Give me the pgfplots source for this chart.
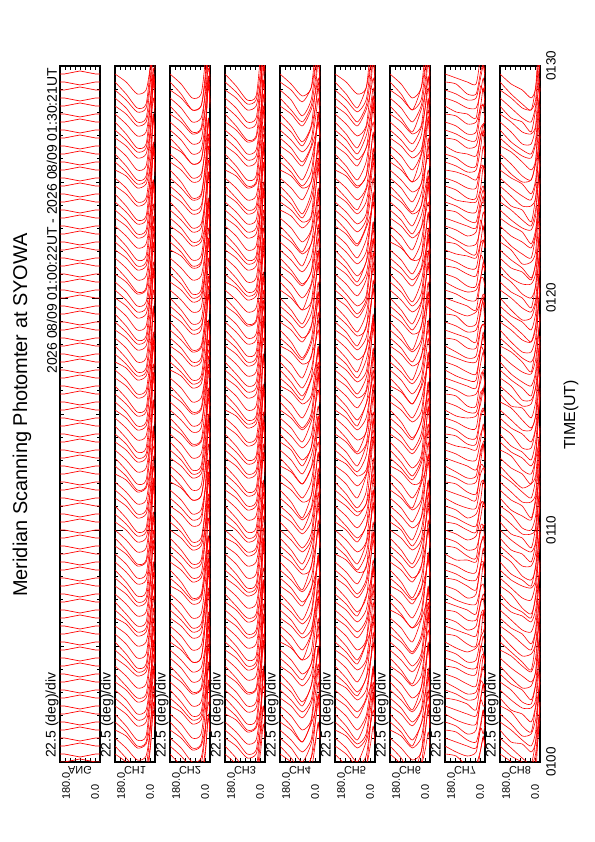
\documentclass[border=0pt]{standalone}
\usepackage{pgfplots}
\pgfplotsset{compat=1.18}
\usepackage{pgfplotstable}
\usepackage{fontspec}
\setmainfont{Liberation Sans}

\newcommand\scanlist{1/0,2/8,3/16,4/24,5/32,6/40,7/48,8/56,9/64,10/72,11/80,12/88,13/96,14/104,15/112,16/120,17/128,18/136,19/144,20/152,21/160,22/168,23/176,24/184,25/192,26/200,27/208,28/216,29/224,30/232,31/240,32/248,33/256,34/264,35/272,36/280,37/288,38/296,39/304,40/312,41/320,42/328,43/336,44/344,45/352,46/360,47/368,48/376,49/384,50/392,51/400,52/408,53/416,54/424,55/432,56/440,57/448,58/456,59/464,60/472,61/480,62/488,63/496,64/504,65/512,66/520,67/528,68/536,69/544,70/552,71/560,72/568,73/576,74/584,75/592,76/600,77/608,78/616,79/624,80/632,81/640,82/648,83/656,84/664,85/672,86/680,87/688}

% #1 table, #2 vertical scale of the deflections (px per table unit), #3 trace style
\newcommand\drawtraces[3]{%
  \foreach \ci/\tm in \scanlist {%
    \edef\temp{\noexpand\addplot[#3] table[x index=0, y expr=#2*\noexpand\thisrowno{\ci}+\tm]{\noexpand#1};}%
    \temp
  }%
}

% ANG: deflection (px) of each scan trace at the sampled angles
\pgfplotstableread[header=false,row sep=\\]{
180 0 0 0 0 0 0 0 0 0 0  0 0 0 0 0 0 0 0 0 0  0 0 0 0 0 0 0 0 0 0  0 0 0 0 0 0 0 0 0 0  0 0 0 0 0 0 0 0 0 0  0 0 0 0 0 0 0 0 0 0  0 0 0 0 0 0 0 0 0 0  0 0 0 0 0 0 0 0 0 0  0 0 0 0 0 0 0 \\
160 0 0 0 0 0 0 0 0 0 0  0 0 0 0 0 0 0 0 0 0  0 0 0 0 0 0 0 0 0 0  0 0 0 0 0 0 0 0 0 0  0 0 0 0 0 0 0 0 0 0  0 0 0 0 0 0 0 0 0 0  0 0 0 0 0 0 0 0 0 0  0 0 0 0 0 0 0 0 0 0  0 0 0 0 0 0 0 \\
90 3 -3 3 -3 3 -3 3 -3 3 -3  3 -3 3 -3 3 -3 3 -3 3 -3  3 -3 3 -3 3 -3 3 -3 3 -3  3 -3 3 -3 3 -3 3 -3 3 -3  3 -3 3 -3 3 -3 3 -3 3 -3  3 -3 3 -3 3 -3 3 -3 3 -3  3 -3 3 -3 3 -3 3 -3 3 -3  3 -3 3 -3 3 -3 3 -3 3 -3  3 -3 3 -3 3 -3 3 \\
20 0 0 0 0 0 0 0 0 0 0  0 0 0 0 0 0 0 0 0 0  0 0 0 0 0 0 0 0 0 0  0 0 0 0 0 0 0 0 0 0  0 0 0 0 0 0 0 0 0 0  0 0 0 0 0 0 0 0 0 0  0 0 0 0 0 0 0 0 0 0  0 0 0 0 0 0 0 0 0 0  0 0 0 0 0 0 0 \\
0 0 0 0 0 0 0 0 0 0 0  0 0 0 0 0 0 0 0 0 0  0 0 0 0 0 0 0 0 0 0  0 0 0 0 0 0 0 0 0 0  0 0 0 0 0 0 0 0 0 0  0 0 0 0 0 0 0 0 0 0  0 0 0 0 0 0 0 0 0 0  0 0 0 0 0 0 0 0 0 0  0 0 0 0 0 0 0 \\
}\tabANG

% CH1
\pgfplotstableread[header=false,row sep=\\]{
180 0 0 0 0 0 0 0 0 0 0  0 0 0 0 0 0 0 0 0 0  0 0 0 0 0 0 0 0 0 0  0 0 0 0 0 0 0 0 0 0  0 0 0 0 0 0 0 0 0 0  0 0 0 0 0 0 0 0 0 0  0 0 0 0 0 0 0 0 0 0  0 0 0 0 0 0 0 0 0 0  0 0 0 0 0 0 0 \\
130 -5 -4 -6 -5 -3 -5 -6 -4 -5 -5  -4 -6 -5 -4 -5 -6 -5 -4 -3 -5  -6 -5 -4 -5 -6 -5 -5 -4 -6 -5  -4 -5 -6 -4 -5 -5 -3 -5 -6 -5  -4 -5 -6 -5 -4 -5 -5 -6 -4 -5  -3 -5 -6 -5 -4 -5 -6 -5 -4 -5  -5 -4 -6 -5 -4 -5 -6 -5 -4 -5  -5 -6 -4 -5 -3 -5 -6 -5 -4 -5  -6 -5 -4 -5 -5 -6 -4 \\
80 -11 -10 -12 -11 -9 -12 -13 -10 -11 -12  -10 -12 -11 -9 -11 -13 -12 -10 -9 -11  -12 -11 -10 -12 -13 -11 -12 -10 -13 -11  -10 -11 -13 -10 -12 -11 -9 -12 -13 -11  -10 -12 -13 -11 -10 -12 -11 -13 -10 -12  -9 -11 -13 -12 -10 -11 -13 -12 -10 -11  -12 -10 -13 -11 -10 -12 -13 -11 -10 -12  -11 -13 -10 -12 -9 -11 -13 -12 -10 -11  -13 -11 -10 -12 -11 -13 -10 \\
40 -9 -8 -10 -9 -7 -10 -11 -8 -9 -10  -8 -10 -9 -7 -9 -11 -10 -8 -7 -9  -10 -9 -8 -10 -11 -9 -10 -8 -11 -9  -8 -9 -11 -8 -10 -9 -7 -10 -11 -9  -8 -10 -11 -9 -8 -10 -9 -11 -8 -10  -7 -9 -11 -10 -8 -9 -11 -10 -8 -9  -10 -8 -11 -9 -8 -10 -11 -9 -8 -10  -9 -11 -8 -10 -7 -9 -11 -10 -8 -9  -11 -9 -8 -10 -9 -11 -8 \\
20 8 5 10 6 4 9 12 5 7 6  4 9 6 3 7 11 8 5 4 6  10 7 5 8 12 6 9 4 11 7  5 6 10 4 8 7 3 9 11 6  5 8 12 7 4 9 6 11 5 8  3 6 10 9 5 7 12 8 4 6  9 5 11 7 4 8 12 6 5 9  7 11 4 8 3 6 10 9 5 7  11 6 4 9 7 10 5 \\
8 30 22 38 26 18 34 44 20 28 25  17 33 24 15 27 40 31 21 16 24  36 27 20 30 45 23 34 17 41 26  19 24 37 16 30 28 14 33 42 23  21 31 43 27 17 35 24 40 19 30  14 23 38 34 20 27 44 31 18 24  33 20 41 27 16 31 45 23 19 34  26 40 17 30 13 24 37 33 20 27  41 23 16 34 27 38 20 \\
0 18 12 24 15 10 20 28 11 17 14  9 21 13 8 16 26 19 12 9 14  23 16 11 18 29 13 21 10 26 15  11 14 23 9 18 17 8 20 27 13  12 19 28 16 10 22 14 25 11 18  8 13 24 21 12 16 28 19 10 14  20 12 26 16 9 19 29 13 11 21  15 25 10 18 7 14 23 20 12 16  26 13 9 21 16 24 12 \\
}\tabCHa

% CH2
\pgfplotstableread[header=false,row sep=\\]{
180 0 0 0 0 0 0 0 0 0 0  0 0 0 0 0 0 0 0 0 0  0 0 0 0 0 0 0 0 0 0  0 0 0 0 0 0 0 0 0 0  0 0 0 0 0 0 0 0 0 0  0 0 0 0 0 0 0 0 0 0  0 0 0 0 0 0 0 0 0 0  0 0 0 0 0 0 0 0 0 0  0 0 0 0 0 0 0 \\
130 -4 -6 -5 -5 -4 -6 -5 -3 -5 -6  -5 -4 -6 -5 -5 -4 -6 -5 -4 -5  -6 -5 -3 -5 -6 -4 -5 -5 -6 -4  -5 -6 -4 -5 -5 -3 -6 -5 -4 -5  -6 -5 -4 -6 -5 -5 -4 -6 -5 -3  -5 -6 -4 -5 -5 -6 -4 -5 -6 -5  -4 -5 -6 -5 -3 -5 -6 -4 -5 -5  -6 -4 -5 -5 -6 -4 -5 -3 -6 -5  -5 -4 -6 -5 -4 -6 -5 \\
80 -12 -13 -11 -12 -10 -13 -12 -9 -11 -13  -12 -10 -13 -12 -11 -10 -14 -12 -10 -11  -13 -12 -9 -11 -14 -10 -12 -11 -13 -10  -12 -14 -10 -11 -12 -9 -13 -12 -10 -12  -14 -12 -10 -13 -11 -12 -10 -13 -12 -9  -11 -13 -10 -12 -11 -14 -10 -12 -13 -11  -10 -12 -14 -11 -9 -12 -13 -10 -12 -11  -13 -10 -12 -11 -14 -10 -12 -9 -13 -12  -11 -10 -13 -12 -10 -14 -12 \\
40 -10 -11 -9 -10 -8 -11 -10 -7 -9 -11  -10 -8 -11 -10 -9 -8 -12 -10 -8 -9  -11 -10 -7 -9 -12 -8 -10 -9 -11 -8  -10 -12 -8 -9 -10 -7 -11 -10 -8 -10  -12 -10 -8 -11 -9 -10 -8 -11 -10 -7  -9 -11 -8 -10 -9 -12 -8 -10 -11 -9  -8 -10 -12 -9 -7 -10 -11 -8 -10 -9  -11 -8 -10 -9 -12 -8 -10 -7 -11 -10  -9 -8 -11 -10 -8 -12 -10 \\
20 5 3 8 6 2 7 10 4 5 9  6 2 9 5 3 11 7 4 8 5  3 7 10 4 6 2 9 5 8 3  7 4 11 6 2 8 5 10 3 6  9 5 3 7 12 4 6 8 2 5  4 8 6 10 3 5 9 2 7 11  6 3 8 5 10 4 7 2 9 6  2 9 5 7 4 11 3 8 6 5  8 4 10 3 6 5 9 \\
8 24 18 33 27 14 30 40 20 25 36  28 15 37 23 17 42 31 19 34 22  16 29 41 21 26 13 38 24 33 18  30 20 44 27 15 34 23 39 17 26  36 22 16 31 45 19 27 33 14 24  20 34 26 40 17 23 37 13 30 43  27 16 33 22 39 19 31 14 36 25  13 37 24 30 18 42 16 34 27 22  33 19 40 15 26 23 37 \\
0 15 11 21 17 9 19 26 12 16 23  18 9 24 14 10 27 20 12 22 14  10 19 27 13 17 8 25 15 21 11  19 12 28 17 9 22 15 25 11 16  23 14 10 20 29 12 17 21 9 15  12 22 16 26 11 15 24 8 19 28  17 10 21 14 25 12 20 9 23 16  8 24 15 19 11 27 10 22 17 14  21 12 26 9 17 15 24 \\
}\tabCHb

% CH3
\pgfplotstableread[header=false,row sep=\\]{
180 0 0 0 0 0 0 0 0 0 0  0 0 0 0 0 0 0 0 0 0  0 0 0 0 0 0 0 0 0 0  0 0 0 0 0 0 0 0 0 0  0 0 0 0 0 0 0 0 0 0  0 0 0 0 0 0 0 0 0 0  0 0 0 0 0 0 0 0 0 0  0 0 0 0 0 0 0 0 0 0  0 0 0 0 0 0 0 \\
130 -4 -5 -6 -4 -5 -5 -3 -5 -6 -5  -5 -4 -6 -5 -4 -5 -6 -5 -4 -5  -4 -6 -5 -4 -5 -6 -5 -4 -3 -5  -4 -5 -6 -5 -4 -5 -5 -6 -4 -5  -5 -6 -4 -5 -3 -5 -6 -5 -4 -5  -6 -5 -4 -5 -6 -5 -5 -4 -6 -5  -3 -5 -6 -5 -4 -5 -6 -5 -4 -5  -5 -4 -6 -5 -3 -5 -6 -4 -5 -5  -4 -6 -5 -5 -4 -5 -6 \\
80 -10 -11 -13 -10 -12 -11 -9 -12 -13 -11  -12 -10 -13 -11 -10 -12 -13 -11 -10 -12  -10 -12 -11 -9 -11 -13 -12 -10 -9 -11  -10 -12 -13 -11 -10 -12 -11 -13 -10 -12  -11 -13 -10 -12 -9 -11 -13 -12 -10 -11  -12 -11 -10 -12 -13 -11 -12 -10 -13 -11  -9 -11 -13 -12 -10 -11 -13 -12 -10 -11  -11 -10 -12 -11 -9 -12 -13 -10 -11 -12  -10 -13 -11 -12 -10 -11 -13 \\
40 -8 -9 -11 -8 -10 -9 -7 -10 -11 -9  -10 -8 -11 -9 -8 -10 -11 -9 -8 -10  -8 -10 -9 -7 -9 -11 -10 -8 -7 -9  -8 -10 -11 -9 -8 -10 -9 -11 -8 -10  -9 -11 -8 -10 -7 -9 -11 -10 -8 -9  -10 -9 -8 -10 -11 -9 -10 -8 -11 -9  -7 -9 -11 -10 -8 -9 -11 -10 -8 -9  -9 -8 -10 -9 -7 -10 -11 -8 -9 -10  -8 -11 -9 -10 -8 -9 -11 \\
20 5 6 10 4 8 7 3 9 11 6  9 5 11 7 4 8 12 6 5 9  4 9 6 3 7 11 8 5 4 6  5 8 12 7 4 9 6 11 5 8  7 11 4 8 3 6 10 9 5 7  10 7 5 8 12 6 9 4 11 7  3 6 10 9 5 7 12 8 4 6  8 5 10 6 4 9 12 5 7 6  5 10 7 9 4 6 11 \\
8 19 24 37 16 30 28 14 33 42 23  33 20 41 27 16 31 45 23 19 34  17 33 24 15 27 40 31 21 16 24  21 31 43 27 17 35 24 40 19 30  26 40 17 30 13 24 37 33 20 27  36 27 20 30 45 23 34 17 41 26  14 23 38 34 20 27 44 31 18 24  30 22 38 26 18 34 44 20 28 25  20 38 27 34 16 23 41 \\
0 11 14 23 9 18 17 8 20 27 13  20 12 26 16 9 19 29 13 11 21  9 21 13 8 16 26 19 12 9 14  12 19 28 16 10 22 14 25 11 18  15 25 10 18 7 14 23 20 12 16  23 16 11 18 29 13 21 10 26 15  8 13 24 21 12 16 28 19 10 14  18 12 24 15 10 20 28 11 17 14  12 24 16 21 9 13 26 \\
}\tabCHc

% CH4
\pgfplotstableread[header=false,row sep=\\]{
180 0 0 0 0 0 0 0 0 0 0  0 0 0 0 0 0 0 0 0 0  0 0 0 0 0 0 0 0 0 0  0 0 0 0 0 0 0 0 0 0  0 0 0 0 0 0 0 0 0 0  0 0 0 0 0 0 0 0 0 0  0 0 0 0 0 0 0 0 0 0  0 0 0 0 0 0 0 0 0 0  0 0 0 0 0 0 0 \\
130 -5 -4 -6 -5 -5 -4 -6 -5 -4 -5  -5 -6 -4 -5 -5 -3 -6 -5 -4 -5  -5 -6 -4 -5 -5 -6 -4 -5 -6 -5  -6 -4 -5 -5 -6 -4 -5 -3 -6 -5  -4 -6 -5 -5 -4 -6 -5 -3 -5 -6  -6 -5 -3 -5 -6 -4 -5 -5 -6 -4  -6 -5 -4 -6 -5 -5 -4 -6 -5 -3  -4 -5 -6 -5 -3 -5 -6 -4 -5 -5  -5 -6 -4 -6 -5 -4 -5 \\
80 -12 -10 -13 -12 -11 -10 -14 -12 -10 -11  -12 -14 -10 -11 -12 -9 -13 -12 -10 -12  -11 -13 -10 -12 -11 -14 -10 -12 -13 -11  -13 -10 -12 -11 -14 -10 -12 -9 -13 -12  -12 -13 -11 -12 -10 -13 -12 -9 -11 -13  -13 -12 -9 -11 -14 -10 -12 -11 -13 -10  -14 -12 -10 -13 -11 -12 -10 -13 -12 -9  -10 -12 -14 -11 -9 -12 -13 -10 -12 -11  -12 -14 -10 -12 -13 -10 -11 \\
40 -4 -2 -6 -3 -5 -1 -4 -7 -3 -5  -2 -6 -4 -3 -7 -5 -1 -4 -6 -3  -5 -3 -1 -6 -4 -2 -7 -4 -3 -5  -6 -4 -2 -5 -3 -7 -4 -1 -5 -3  -3 -7 -5 -2 -4 -6 -3 -5 -1 -4  -4 -1 -6 -3 -5 -2 -7 -4 -3 -6  -2 -5 -3 -7 -4 -1 -5 -3 -6 -4  -7 -3 -4 -2 -6 -5 -3 -1 -4 -5  -3 -6 -2 -4 -5 -3 -7 \\
20 10 7 13 9 12 6 11 15 8 10  8 14 10 6 12 16 9 11 7 13  12 9 6 14 10 8 15 11 7 12  13 10 7 11 9 15 12 6 10 8  9 15 12 7 11 13 8 10 6 14  10 6 13 9 12 7 15 11 8 13  7 12 9 15 10 6 11 8 13 10  15 9 11 7 14 12 8 6 10 12  8 13 7 10 12 9 14 \\
8 20 15 26 18 24 13 22 30 17 21  16 28 20 12 25 32 19 23 14 27  24 18 13 29 21 16 31 22 15 25  27 20 14 23 18 30 24 12 21 17  18 31 25 14 22 27 16 20 13 29  21 12 27 19 24 15 32 22 16 26  15 25 18 31 20 13 23 17 28 21  30 18 22 14 28 25 16 12 20 24  17 27 14 21 25 18 29 \\
0 11 8 14 9 12 6 10 16 8 11  8 14 10 5 12 16 9 12 7 13  12 9 6 15 11 8 16 11 7 13  14 10 7 12 9 15 12 5 11 8  9 16 13 7 11 14 8 10 6 15  11 5 14 10 12 7 16 11 8 13  7 13 9 16 10 6 12 8 14 11  15 9 11 7 14 13 8 5 10 12  8 14 7 11 13 9 15 \\
}\tabCHd

% CH5
\pgfplotstableread[header=false,row sep=\\]{
180 0 0 0 0 0 0 0 0 0 0  0 0 0 0 0 0 0 0 0 0  0 0 0 0 0 0 0 0 0 0  0 0 0 0 0 0 0 0 0 0  0 0 0 0 0 0 0 0 0 0  0 0 0 0 0 0 0 0 0 0  0 0 0 0 0 0 0 0 0 0  0 0 0 0 0 0 0 0 0 0  0 0 0 0 0 0 0 \\
130 -5 -6 -4 -5 -3 -5 -6 -5 -4 -5  -3 -5 -6 -5 -4 -5 -6 -5 -4 -5  -4 -5 -6 -4 -5 -5 -3 -5 -6 -5  -4 -6 -5 -4 -5 -6 -5 -4 -3 -5  -5 -4 -6 -5 -4 -5 -6 -5 -4 -5  -4 -5 -6 -5 -4 -5 -5 -6 -4 -5  -6 -5 -4 -5 -6 -5 -5 -4 -6 -5  -5 -4 -6 -5 -3 -5 -6 -4 -5 -5  -6 -5 -4 -5 -5 -6 -4 \\
80 -11 -13 -10 -12 -9 -11 -13 -12 -10 -11  -9 -11 -13 -12 -10 -11 -13 -12 -10 -11  -10 -11 -13 -10 -12 -11 -9 -12 -13 -11  -10 -12 -11 -9 -11 -13 -12 -10 -9 -11  -12 -10 -13 -11 -10 -12 -13 -11 -10 -12  -10 -12 -13 -11 -10 -12 -11 -13 -10 -12  -12 -11 -10 -12 -13 -11 -12 -10 -13 -11  -11 -10 -12 -11 -9 -12 -13 -10 -11 -12  -13 -11 -10 -12 -11 -13 -10 \\
40 -3 -7 -5 -2 -4 -6 -3 -5 -1 -4  -4 -2 -6 -3 -5 -1 -4 -7 -3 -5  -4 -1 -6 -3 -5 -2 -7 -4 -3 -6  -2 -6 -4 -3 -7 -5 -1 -4 -6 -3  -2 -5 -3 -7 -4 -1 -5 -3 -6 -4  -5 -3 -1 -6 -4 -2 -7 -4 -3 -5  -7 -3 -4 -2 -6 -5 -3 -1 -4 -5  -6 -4 -2 -5 -3 -7 -4 -1 -5 -3  -3 -6 -2 -4 -5 -3 -7 \\
20 9 15 12 7 11 13 8 10 6 14  10 7 13 9 12 6 11 15 8 10  10 6 13 9 12 7 15 11 8 13  8 14 10 6 12 16 9 11 7 13  7 12 9 15 10 6 11 8 13 10  12 9 6 14 10 8 15 11 7 12  15 9 11 7 14 12 8 6 10 12  13 10 7 11 9 15 12 6 10 8  8 13 7 10 12 9 14 \\
8 18 31 25 14 22 27 16 20 13 29  20 15 26 18 24 13 22 30 17 21  21 12 27 19 24 15 32 22 16 26  16 28 20 12 25 32 19 23 14 27  15 25 18 31 20 13 23 17 28 21  24 18 13 29 21 16 31 22 15 25  30 18 22 14 28 25 16 12 20 24  27 20 14 23 18 30 24 12 21 17  17 27 14 21 25 18 29 \\
0 9 16 13 7 11 14 8 10 6 15  11 8 14 9 12 6 10 16 8 11  11 5 14 10 12 7 16 11 8 13  8 14 10 5 12 16 9 12 7 13  7 13 9 16 10 6 12 8 14 11  12 9 6 15 11 8 16 11 7 13  15 9 11 7 14 13 8 5 10 12  14 10 7 12 9 15 12 5 11 8  8 14 7 11 13 9 15 \\
}\tabCHe

% CH6
\pgfplotstableread[header=false,row sep=\\]{
180 0 0 0 0 0 0 0 0 0 0  0 0 0 0 0 0 0 0 0 0  0 0 0 0 0 0 0 0 0 0  0 0 0 0 0 0 0 0 0 0  0 0 0 0 0 0 0 0 0 0  0 0 0 0 0 0 0 0 0 0  0 0 0 0 0 0 0 0 0 0  0 0 0 0 0 0 0 0 0 0  0 0 0 0 0 0 0 \\
130 -4 -5 -6 -5 -3 -5 -6 -4 -5 -5  -6 -5 -4 -6 -5 -5 -4 -6 -5 -3  -6 -5 -3 -5 -6 -4 -5 -5 -6 -4  -4 -6 -5 -5 -4 -6 -5 -3 -5 -6  -6 -4 -5 -5 -6 -4 -5 -3 -6 -5  -5 -6 -4 -5 -5 -6 -4 -5 -6 -5  -5 -6 -4 -5 -5 -3 -6 -5 -4 -5  -5 -4 -6 -5 -5 -4 -6 -5 -4 -5  -5 -4 -6 -5 -4 -6 -5 \\
80 -10 -12 -14 -11 -9 -12 -13 -10 -12 -11  -14 -12 -10 -13 -11 -12 -10 -13 -12 -9  -13 -12 -9 -11 -14 -10 -12 -11 -13 -10  -12 -13 -11 -12 -10 -13 -12 -9 -11 -13  -13 -10 -12 -11 -14 -10 -12 -9 -13 -12  -11 -13 -10 -12 -11 -14 -10 -12 -13 -11  -12 -14 -10 -11 -12 -9 -13 -12 -10 -12  -12 -10 -13 -12 -11 -10 -14 -12 -10 -11  -11 -10 -13 -12 -10 -14 -12 \\
40 -2 -5 -3 -7 -4 -1 -5 -3 -6 -4  -3 -7 -5 -2 -4 -6 -3 -5 -1 -4  -5 -3 -1 -6 -4 -2 -7 -4 -3 -5  -4 -2 -6 -3 -5 -1 -4 -7 -3 -5  -7 -3 -4 -2 -6 -5 -3 -1 -4 -5  -4 -1 -6 -3 -5 -2 -7 -4 -3 -6  -6 -4 -2 -5 -3 -7 -4 -1 -5 -3  -2 -6 -4 -3 -7 -5 -1 -4 -6 -3  -3 -6 -2 -4 -5 -3 -7 \\
20 7 12 9 15 10 6 11 8 13 10  9 15 12 7 11 13 8 10 6 14  12 9 6 14 10 8 15 11 7 12  10 7 13 9 12 6 11 15 8 10  15 9 11 7 14 12 8 6 10 12  10 6 13 9 12 7 15 11 8 13  13 10 7 11 9 15 12 6 10 8  8 14 10 6 12 16 9 11 7 13  8 13 7 10 12 9 14 \\
8 15 25 18 31 20 13 23 17 28 21  18 31 25 14 22 27 16 20 13 29  24 18 13 29 21 16 31 22 15 25  20 15 26 18 24 13 22 30 17 21  30 18 22 14 28 25 16 12 20 24  21 12 27 19 24 15 32 22 16 26  27 20 14 23 18 30 24 12 21 17  16 28 20 12 25 32 19 23 14 27  17 27 14 21 25 18 29 \\
0 7 13 9 16 10 6 12 8 14 11  9 16 13 7 11 14 8 10 6 15  12 9 6 15 11 8 16 11 7 13  11 8 14 9 12 6 10 16 8 11  15 9 11 7 14 13 8 5 10 12  11 5 14 10 12 7 16 11 8 13  14 10 7 12 9 15 12 5 11 8  8 14 10 5 12 16 9 12 7 13  8 14 7 11 13 9 15 \\
}\tabCHf

% CH7
\pgfplotstableread[header=false,row sep=\\]{
180 0 0 0 0 0 0 0 0 0 0  0 0 0 0 0 0 0 0 0 0  0 0 0 0 0 0 0 0 0 0  0 0 0 0 0 0 0 0 0 0  0 0 0 0 0 0 0 0 0 0  0 0 0 0 0 0 0 0 0 0  0 0 0 0 0 0 0 0 0 0  0 0 0 0 0 0 0 0 0 0  0 0 0 0 0 0 0 \\
130 -2 -1 -3 -2 -1 -2 -3 -2 -1 -2  -3 -2 -1 -2 -2 -3 -1 -2 -2 -1  -2 -3 -2 -1 -2 -2 -3 -1 -2 -2  -1 -2 -2 -3 -2 -1 -2 -3 -2 -2  -2 -1 -2 -2 -3 -2 -1 -2 -2 -3  -2 -2 -3 -1 -2 -2 -1 -3 -2 -2  -3 -2 -1 -2 -2 -1 -3 -2 -2 -1  -2 -3 -2 -2 -1 -2 -2 -3 -1 -2  -2 -1 -3 -2 -2 -1 -2 \\
80 -4 -6 -5 -4 -5 -6 -5 -4 -3 -5  -6 -5 -4 -5 -6 -5 -5 -4 -6 -5  -4 -5 -6 -4 -5 -5 -3 -5 -6 -5  -4 -5 -6 -5 -4 -5 -5 -6 -4 -5  -3 -5 -6 -5 -4 -5 -6 -5 -4 -5  -5 -4 -6 -5 -4 -5 -6 -5 -4 -5  -5 -6 -4 -5 -3 -5 -6 -5 -4 -5  -5 -4 -6 -5 -3 -5 -6 -4 -5 -5  -6 -5 -4 -5 -5 -6 -4 \\
40 -6 -5 -3 -5 -6 -4 -5 -5 -6 -4  -5 -6 -4 -5 -5 -3 -6 -5 -4 -5  -6 -5 -4 -6 -5 -5 -4 -6 -5 -3  -5 -6 -4 -5 -5 -6 -4 -5 -6 -5  -4 -5 -6 -5 -3 -5 -6 -4 -5 -5  -6 -4 -5 -5 -6 -4 -5 -3 -6 -5  -4 -6 -5 -5 -4 -6 -5 -3 -5 -6  -5 -4 -6 -5 -5 -4 -6 -5 -4 -5  -5 -4 -6 -5 -4 -6 -5 \\
20 6 2 9 5 3 11 7 4 8 5  3 7 10 4 6 2 9 5 8 3  7 4 11 6 2 8 5 10 3 6  9 5 3 7 12 4 6 8 2 5  4 8 6 10 3 5 9 2 7 11  6 3 8 5 10 4 7 2 9 6  2 9 5 7 4 11 3 8 6 5  5 3 8 6 2 7 10 4 5 9  8 4 10 3 6 5 9 \\
8 12 9 6 14 10 8 15 11 7 12  13 10 7 11 9 15 12 6 10 8  9 15 12 7 11 13 8 10 6 14  10 6 13 9 12 7 15 11 8 13  7 12 9 15 10 6 11 8 13 10  15 9 11 7 14 12 8 6 10 12  10 7 13 9 12 6 11 15 8 10  8 14 10 6 12 16 9 11 7 13  8 13 7 10 12 9 14 \\
0 7 4 11 6 2 8 5 10 3 6  9 5 3 7 12 4 6 8 2 5  4 8 6 10 3 5 9 2 7 11  6 3 8 5 10 4 7 2 9 6  2 9 5 7 4 11 3 8 6 5  5 3 8 6 2 7 10 4 5 9  6 2 9 5 3 11 7 4 8 5  3 7 10 4 6 2 9 5 8 3  8 4 10 3 6 5 9 \\
}\tabCHg

% CH8
\pgfplotstableread[header=false,row sep=\\]{
180 0 0 0 0 0 0 0 0 0 0  0 0 0 0 0 0 0 0 0 0  0 0 0 0 0 0 0 0 0 0  0 0 0 0 0 0 0 0 0 0  0 0 0 0 0 0 0 0 0 0  0 0 0 0 0 0 0 0 0 0  0 0 0 0 0 0 0 0 0 0  0 0 0 0 0 0 0 0 0 0  0 0 0 0 0 0 0 \\
130 -6 -4 -5 -5 -6 -4 -5 -3 -6 -5  -4 -5 -6 -5 -3 -5 -6 -4 -5 -5  -5 -6 -4 -5 -5 -6 -4 -5 -6 -5  -6 -5 -4 -6 -5 -5 -4 -6 -5 -3  -5 -6 -4 -5 -5 -3 -6 -5 -4 -5  -6 -5 -3 -5 -6 -4 -5 -5 -6 -4  -5 -4 -6 -5 -5 -4 -6 -5 -4 -5  -4 -6 -5 -5 -4 -6 -5 -3 -5 -6  -5 -4 -6 -5 -4 -6 -5 \\
80 -9 -11 -8 -10 -7 -9 -11 -10 -8 -9  -10 -8 -11 -9 -8 -10 -11 -9 -8 -10  -7 -9 -11 -10 -8 -9 -11 -10 -8 -9  -8 -10 -11 -9 -8 -10 -9 -11 -8 -10  -8 -9 -11 -8 -10 -9 -7 -10 -11 -9  -10 -9 -8 -10 -11 -9 -10 -8 -11 -9  -8 -10 -9 -7 -9 -11 -10 -8 -7 -9  -9 -8 -10 -9 -7 -10 -11 -8 -9 -10  -11 -9 -8 -10 -9 -11 -8 \\
40 -14 -12 -10 -13 -11 -12 -10 -13 -12 -9  -11 -13 -10 -12 -11 -14 -10 -12 -13 -11  -10 -12 -14 -11 -9 -12 -13 -10 -12 -11  -13 -10 -12 -11 -14 -10 -12 -9 -13 -12  -12 -13 -11 -12 -10 -13 -12 -9 -11 -13  -12 -10 -13 -12 -11 -10 -14 -12 -10 -11  -13 -12 -9 -11 -14 -10 -12 -11 -13 -10  -12 -14 -10 -11 -12 -9 -13 -12 -10 -12  -11 -10 -13 -12 -10 -14 -12 \\
20 -7 -3 -4 -2 -6 -5 -3 -1 -4 -5  -2 -5 -3 -7 -4 -1 -5 -3 -6 -4  -4 -1 -6 -3 -5 -2 -7 -4 -3 -6  -3 -7 -5 -2 -4 -6 -3 -5 -1 -4  -6 -4 -2 -5 -3 -7 -4 -1 -5 -3  -5 -3 -1 -6 -4 -2 -7 -4 -3 -5  -2 -6 -4 -3 -7 -5 -1 -4 -6 -3  -4 -2 -6 -3 -5 -1 -4 -7 -3 -5  -3 -6 -2 -4 -5 -3 -7 \\
8 15 9 11 7 14 12 8 6 10 12  7 12 9 15 10 6 11 8 13 10  10 6 13 9 12 7 15 11 8 13  9 15 12 7 11 13 8 10 6 14  13 10 7 11 9 15 12 6 10 8  12 9 6 14 10 8 15 11 7 12  8 14 10 6 12 16 9 11 7 13  10 7 13 9 12 6 11 15 8 10  8 13 7 10 12 9 14 \\
0 30 18 22 14 28 25 16 12 20 24  15 25 18 31 20 13 23 17 28 21  21 12 27 19 24 15 32 22 16 26  18 31 25 14 22 27 16 20 13 29  27 20 14 23 18 30 24 12 21 17  24 18 13 29 21 16 31 22 15 25  16 28 20 12 25 32 19 23 14 27  20 15 26 18 24 13 22 30 17 21  17 27 14 21 25 18 29 \\
}\tabCHh

\pgfplotsset{
  tr/.style={red, line width=0.7pt, line join=round},
  trs/.style={red, line width=0.6pt, line join=round, smooth, tension=0.4},
  panel/.style={
    anchor=south west, scale only axis, width=40bp, height=696bp,
    xmin=0, xmax=180, x dir=reverse, ymin=0, ymax=696,
    axis line style={black, line width=1.5pt},
    xtick={0,22.5,45,67.5,90,112.5,135,157.5,180}, xticklabels={},
    ytick={116,348,580}, yticklabels={},
    minor ytick={23.2,46.4,69.6,92.8,139.2,162.4,185.6,208.8,255.2,278.4,301.6,324.8,371.2,394.4,417.6,440.8,487.2,510.4,533.6,556.8,603.2,626.4,649.6,672.8},
    extra y ticks={0,232,464,696}, extra y tick labels={},
    extra y tick style={major tick length=8bp},
    tick align=inside, major tick length=4bp, minor tick length=3bp,
    tick style={black, line width=0.9pt},
    clip=true,
  },
}

\begin{document}
\begin{tikzpicture}[x=1bp,y=1bp]
\useasboundingbox (0,0) rectangle (595,842);
\fill[white] (0,0) rectangle (595,842);

\begin{axis}[panel, at={(60bp,80bp)}]
\drawtraces{\tabANG}{1}{tr}
\end{axis}
\begin{axis}[panel, at={(115bp,80bp)}]
\drawtraces{\tabCHa}{2}{trs}
\end{axis}
\begin{axis}[panel, at={(170bp,80bp)}]
\drawtraces{\tabCHb}{2}{trs}
\end{axis}
\begin{axis}[panel, at={(225bp,80bp)}]
\drawtraces{\tabCHc}{2}{trs}
\end{axis}
\begin{axis}[panel, at={(280bp,80bp)}]
\drawtraces{\tabCHd}{2}{trs}
\end{axis}
\begin{axis}[panel, at={(335bp,80bp)}]
\drawtraces{\tabCHe}{2}{trs}
\end{axis}
\begin{axis}[panel, at={(390bp,80bp)}]
\drawtraces{\tabCHf}{2}{trs}
\end{axis}
\begin{axis}[panel, at={(445bp,80bp)}]
\drawtraces{\tabCHg}{2}{trs}
\end{axis}
\begin{axis}[panel, at={(500bp,80bp)}]
\drawtraces{\tabCHh}{2}{trs}
\end{axis}

% texts
\node[rotate=90, font=\fontsize{20}{24}\selectfont] at (22,427) {Meridian Scanning Photomter at SYOWA};
\node[rotate=90, anchor=east, inner sep=0pt, font=\fontsize{14}{16}\selectfont] at (52,774) {2026 08/09 01:00:22UT - 2026 08/09 01:30:21UT};
\foreach \L/\nm in {60/ANG,115/CH1,170/CH2,225/CH3,280/CH4,335/CH5,390/CH6,445/CH7,500/CH8}{
  \node[rotate=90, anchor=west, inner sep=0pt, font=\fontsize{14}{16}\selectfont] at (\L-8,84) {22.5 (deg)/div};
  \node[rotate=90, anchor=west, inner sep=0pt, font=\fontsize{11}{13}\selectfont] at (\L+6,42) {180.0};
  \node[rotate=90, anchor=west, inner sep=0pt, font=\fontsize{11}{13}\selectfont] at (\L+35,42) {0.0};
  \node[yscale=-1, inner sep=0pt, font=\fontsize{11}{13}\selectfont] at (\L+20,72) {\nm};
}
\foreach \yy/\lab in {80/0100,312/0110,544/0120,776/0130}{
  \node[rotate=90, inner sep=0pt, font=\fontsize{13.5}{15}\selectfont] at (551,\yy) {\lab};
}
\node[rotate=90, font=\fontsize{16}{18}\selectfont] at (571,427) {TIME(UT)};
\end{tikzpicture}
\end{document}
